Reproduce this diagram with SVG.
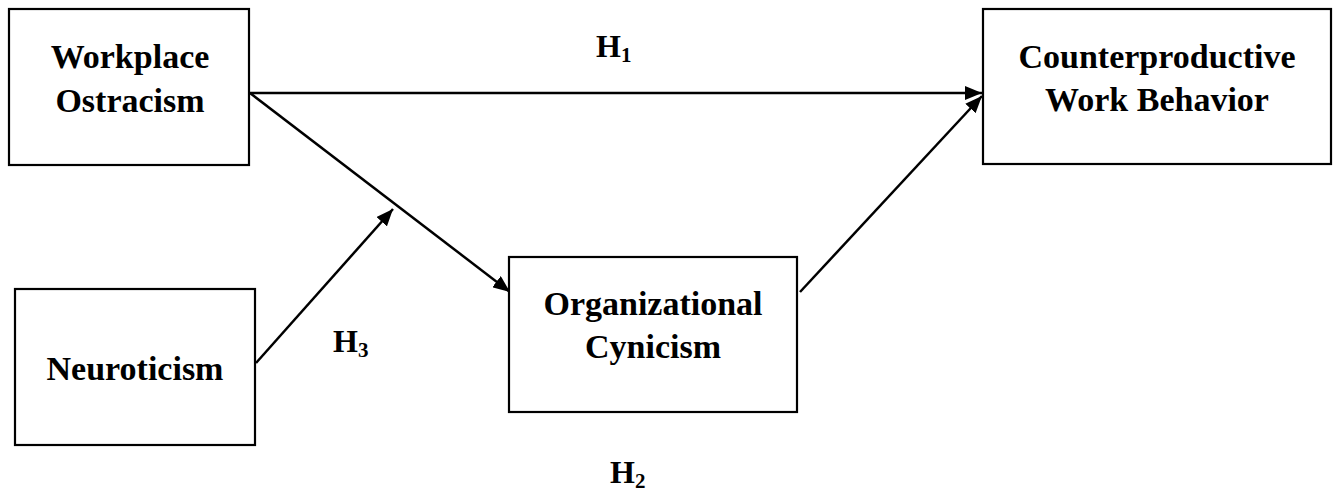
<svg xmlns="http://www.w3.org/2000/svg" width="1336" height="497" viewBox="0 0 1336 497">
<defs>
<style>
.box{fill:#fff;stroke:#000;stroke-width:2.2}
.t{font-family:"Liberation Serif","Times New Roman",serif;font-weight:bold;font-size:34px;fill:#000;text-anchor:middle}
.h{font-family:"Liberation Serif","Times New Roman",serif;font-weight:bold;font-size:32px;fill:#000}
.sub{font-size:21px}
.c{stroke:#000;stroke-width:2.5;fill:none}
</style>
<marker id="ah" markerUnits="userSpaceOnUse" markerWidth="18" markerHeight="14" refX="17" refY="7" orient="auto">
<path d="M0,0 L17,7 L0,14 Z" fill="#000"/>
</marker>
</defs>
<rect width="1336" height="497" fill="#fff"/>
<g id="connectors">
<line class="c" x1="250" y1="93" x2="982" y2="93" marker-end="url(#ah)"/>
<line class="c" x1="250" y1="93" x2="510" y2="292" marker-end="url(#ah)"/>
<line class="c" x1="256" y1="363" x2="393" y2="209" marker-end="url(#ah)"/>
<line class="c" x1="800" y1="292" x2="982" y2="96" marker-end="url(#ah)"/>
</g>
<g id="node-wo">
<rect class="box" x="9" y="9" width="240" height="156"/>
<text class="t" x="130" y="68">Workplace</text>
<text class="t" x="130" y="112">Ostracism</text>
</g>
<g id="node-cwb">
<rect class="box" x="983" y="9" width="348" height="155"/>
<text class="t" x="1157" y="68">Counterproductive</text>
<text class="t" x="1157" y="111">Work Behavior</text>
</g>
<g id="node-oc">
<rect class="box" x="509" y="257" width="288" height="155"/>
<text class="t" x="653" y="315">Organizational</text>
<text class="t" x="653" y="358">Cynicism</text>
</g>
<g id="node-n">
<rect class="box" x="15" y="289" width="240" height="156"/>
<text class="t" x="135" y="380">Neuroticism</text>
</g>
<g id="labels">
<text class="h" x="596" y="57">H<tspan class="sub" dy="5">1</tspan></text>
<text class="h" x="333" y="352">H<tspan class="sub" dy="5">3</tspan></text>
<text class="h" x="610" y="483">H<tspan class="sub" dy="5">2</tspan></text>
</g>
</svg>
